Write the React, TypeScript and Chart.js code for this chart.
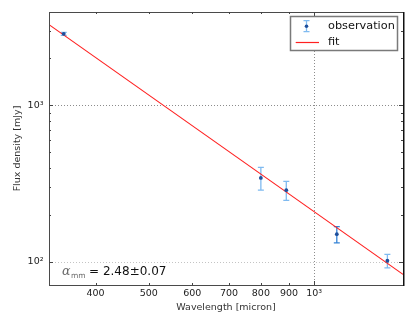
import React, { useEffect, useRef } from 'react';
import { Chart, registerables } from 'chart.js';
Chart.register(...registerables);

// observation data (wavelength in micron, flux density in mJy)
const wavelength = [350, 800, 890, 1100, 1360];
const flux = [2870, 344, 287, 150, 101.5];
const fluxErr = [60, 57, 40, 18, 10];
const errColors = ['#7fbaf0', '#7fbaf0', '#7fbaf0', '#3583d6', '#7fbaf0'];

// fitted power law (end points)
const fitWavelength = [329, 1452];
const fitFlux = [3290, 83];

// axes
const xRange = [329, 1452];
const yRange = [71, 3960];
const xTickValues = [400, 500, 600, 700, 800, 900, 1000];
const xMinorTicks = [400, 500, 600, 700, 800, 900];
const xMajorTicks = [1000];
const yTickValues = [100, 1000];
const yMinorTicks = [200, 300, 400, 500, 600, 700, 800, 900, 2000, 3000];
const yMajorTicks = [100, 1000];
const yGridColors = ['#c4c4c4', '#8c8c8c'];
const tickLabelMap: Record<number, string> = { 100: '10²', 1000: '10³' };

const legendLabels = ['observation', 'fit'];
const annotationValue = '2.48';
const annotationError = '0.07';

const FONT = 'DejaVu Sans';

const framePlugin = {
  id: 'frame',
  beforeDatasetsDraw(chart: any) {
    const { ctx, chartArea: a, scales } = chart;
    const x = scales.x;
    const y = scales.y;
    ctx.save();
    // dotted grid at major ticks
    ctx.lineWidth = 1;
    ctx.setLineDash([1, 2]);
    ctx.strokeStyle = '#8c8c8c';
    xMajorTicks.forEach((v) => {
      const px = Math.round(x.getPixelForValue(v)) + 0.5;
      ctx.beginPath();
      ctx.moveTo(px, a.top);
      ctx.lineTo(px, a.bottom);
      ctx.stroke();
    });
    yMajorTicks.forEach((v, i) => {
      const py = Math.round(y.getPixelForValue(v)) + 0.5;
      ctx.strokeStyle = yGridColors[i];
      ctx.beginPath();
      ctx.moveTo(a.left, py);
      ctx.lineTo(a.right, py);
      ctx.stroke();
    });
    ctx.setLineDash([]);
    // error bars
    wavelength.forEach((w, i) => {
      const px = x.getPixelForValue(w);
      const top = y.getPixelForValue(flux[i] + fluxErr[i]);
      const bot = y.getPixelForValue(flux[i] - fluxErr[i]);
      ctx.strokeStyle = errColors[i];
      ctx.lineWidth = 1.3;
      ctx.beginPath();
      ctx.moveTo(px, top);
      ctx.lineTo(px, bot);
      ctx.moveTo(px - 3, top);
      ctx.lineTo(px + 3, top);
      ctx.moveTo(px - 3, bot);
      ctx.lineTo(px + 3, bot);
      ctx.stroke();
    });
    ctx.restore();
  },
  afterDatasetsDraw(chart: any) {
    const { ctx, chartArea: a, scales } = chart;
    const x = scales.x;
    const y = scales.y;
    ctx.save();
    // spines
    ctx.strokeStyle = '#4a4a4a';
    ctx.lineWidth = 1;
    ctx.strokeRect(Math.round(a.left) + 0.5, Math.round(a.top) + 0.5, Math.round(a.right - a.left), Math.round(a.bottom - a.top));
    ctx.strokeStyle = '#111';
    ctx.lineWidth = 1.5;
    ctx.beginPath();
    ctx.moveTo(Math.round(a.right) + 0.75, a.top);
    ctx.lineTo(Math.round(a.right) + 0.75, a.bottom + 1);
    ctx.stroke();
    // inward ticks
    ctx.strokeStyle = '#444';
    ctx.lineWidth = 1;
    const xt = (vals: number[], len: number) => vals.forEach((v) => {
      const px = Math.round(x.getPixelForValue(v)) + 0.5;
      ctx.beginPath();
      ctx.moveTo(px, a.bottom);
      ctx.lineTo(px, a.bottom - len);
      ctx.moveTo(px, a.top);
      ctx.lineTo(px, a.top + len);
      ctx.stroke();
    });
    const yt = (vals: number[], len: number) => vals.forEach((v) => {
      const py = Math.round(y.getPixelForValue(v)) + 0.5;
      ctx.beginPath();
      ctx.moveTo(a.left, py);
      ctx.lineTo(a.left + len, py);
      ctx.moveTo(a.right, py);
      ctx.lineTo(a.right - len, py);
      ctx.stroke();
    });
    xt(xMinorTicks, 2);
    xt(xMajorTicks, 4);
    yt(yMinorTicks, 2);
    yt(yMajorTicks, 4);

    // legend
    const lx = 290.5, ly = 16.5, lw = 107, lh = 34;
    ctx.fillStyle = '#fff';
    ctx.fillRect(lx, ly, lw, lh);
    ctx.strokeStyle = '#7a7a7a';
    ctx.lineWidth = 1.5;
    ctx.strokeRect(lx, ly, lw, lh);
    // errorbar symbol
    const sx = 306.5;
    ctx.strokeStyle = '#7fbaf0';
    ctx.lineWidth = 1.3;
    ctx.beginPath();
    ctx.moveTo(sx, 20.7);
    ctx.lineTo(sx, 31.7);
    ctx.moveTo(sx - 3, 20.7);
    ctx.lineTo(sx + 3, 20.7);
    ctx.moveTo(sx - 3, 31.7);
    ctx.lineTo(sx + 3, 31.7);
    ctx.stroke();
    ctx.fillStyle = '#1f4f9c';
    ctx.beginPath();
    ctx.arc(sx, 26.2, 1.8, 0, Math.PI * 2);
    ctx.fill();
    // fit symbol
    ctx.strokeStyle = '#ff2020';
    ctx.lineWidth = 1.2;
    ctx.beginPath();
    ctx.moveTo(295.7, 42.5);
    ctx.lineTo(319, 42.5);
    ctx.stroke();
    ctx.fillStyle = '#111';
    ctx.font = `11.3px "${FONT}"`;
    ctx.textBaseline = 'middle';
    ctx.textAlign = 'left';
    ctx.fillText(legendLabels[0], 328, 26.5);
    ctx.fillText(legendLabels[1], 328, 42.5);

    // annotation
    ctx.textBaseline = 'alphabetic';
    ctx.fillStyle = '#6a6a6a';
    ctx.font = `italic 12.5px "DejaVu Serif"`;
    ctx.fillText('α', 62, 274.5);
    const aw = ctx.measureText('α').width;
    ctx.font = `7.5px "${FONT}"`;
    ctx.fillText('mm', 62 + aw + 0.5, 277.5);
    const mw = ctx.measureText('mm').width;
    ctx.fillStyle = '#111';
    ctx.font = `12px "${FONT}"`;
    ctx.fillText(`= ${annotationValue}±${annotationError}`, 62 + aw + 0.5 + mw + 3.5, 275);
    ctx.restore();
  },
};

export default function App() {
  const ref = useRef<HTMLCanvasElement | null>(null);
  useEffect(() => {
    if (!ref.current) return;
    const chart = new Chart(ref.current, {
      type: 'scatter',
      data: {
        datasets: [
          {
            type: 'scatter',
            label: legendLabels[0],
            data: wavelength.map((w, i) => ({ x: w, y: flux[i] })),
            backgroundColor: '#1f4f9c',
            borderWidth: 0,
            pointRadius: 1.9,
            order: 0,
          },
          {
            type: 'line',
            label: legendLabels[1],
            data: fitWavelength.map((w, i) => ({ x: w, y: fitFlux[i] })),
            borderColor: '#ff2020',
            borderWidth: 1.1,
            pointRadius: 0,
            fill: false,
            order: 1,
          } as any,
        ],
      },
      options: {
        responsive: false,
        animation: false,
        layout: { padding: { top: 12, right: 12, left: 0, bottom: 0 } },
        plugins: { legend: { display: false }, tooltip: { enabled: false } },
        scales: {
          x: {
            type: 'logarithmic',
            min: xRange[0],
            max: xRange[1],
            afterBuildTicks: (s: any) => { s.ticks = xTickValues.map((v) => ({ value: v })); },
            afterFit: (s: any) => { s.height = 35; },
            grid: { display: false, drawTicks: false },
            border: { display: false },
            ticks: {
              autoSkip: false,
              maxRotation: 0,
              padding: 3,
              color: '#222',
              font: { family: FONT, size: 9.5 },
              callback: (v: any) => (Number(v) === 1000 ? tickLabelMap[1000] : String(v)),
            },
            title: {
              display: true,
              text: 'Wavelength [micron]',
              color: '#333',
              font: { family: FONT, size: 9.5 },
              padding: { top: 0, bottom: 7 },
            },
          },
          y: {
            type: 'logarithmic',
            min: yRange[0],
            max: yRange[1],
            afterBuildTicks: (s: any) => { s.ticks = yTickValues.map((v) => ({ value: v })); },
            afterFit: (s: any) => { s.width = 49; },
            grid: { display: false, drawTicks: false },
            border: { display: false },
            ticks: {
              autoSkip: false,
              padding: 5.5,
              color: '#222',
              font: { family: FONT, size: 9.5 },
              callback: (v: any) => tickLabelMap[Number(v)] || '',
            },
            title: {
              display: true,
              text: 'Flux density [mJy]',
              color: '#333',
              font: { family: FONT, size: 9.5 },
              padding: { top: 12, bottom: 0 },
            },
          },
        },
      },
      plugins: [framePlugin],
    } as any);
    return () => chart.destroy();
  }, []);
  return (
    <div style={{ position: 'absolute', left: 0, top: 0, width: 415, height: 320, background: '#fff' }}>
      <canvas ref={ref} width={415} height={320} style={{ width: 415, height: 320 }} />
    </div>
  );
}
